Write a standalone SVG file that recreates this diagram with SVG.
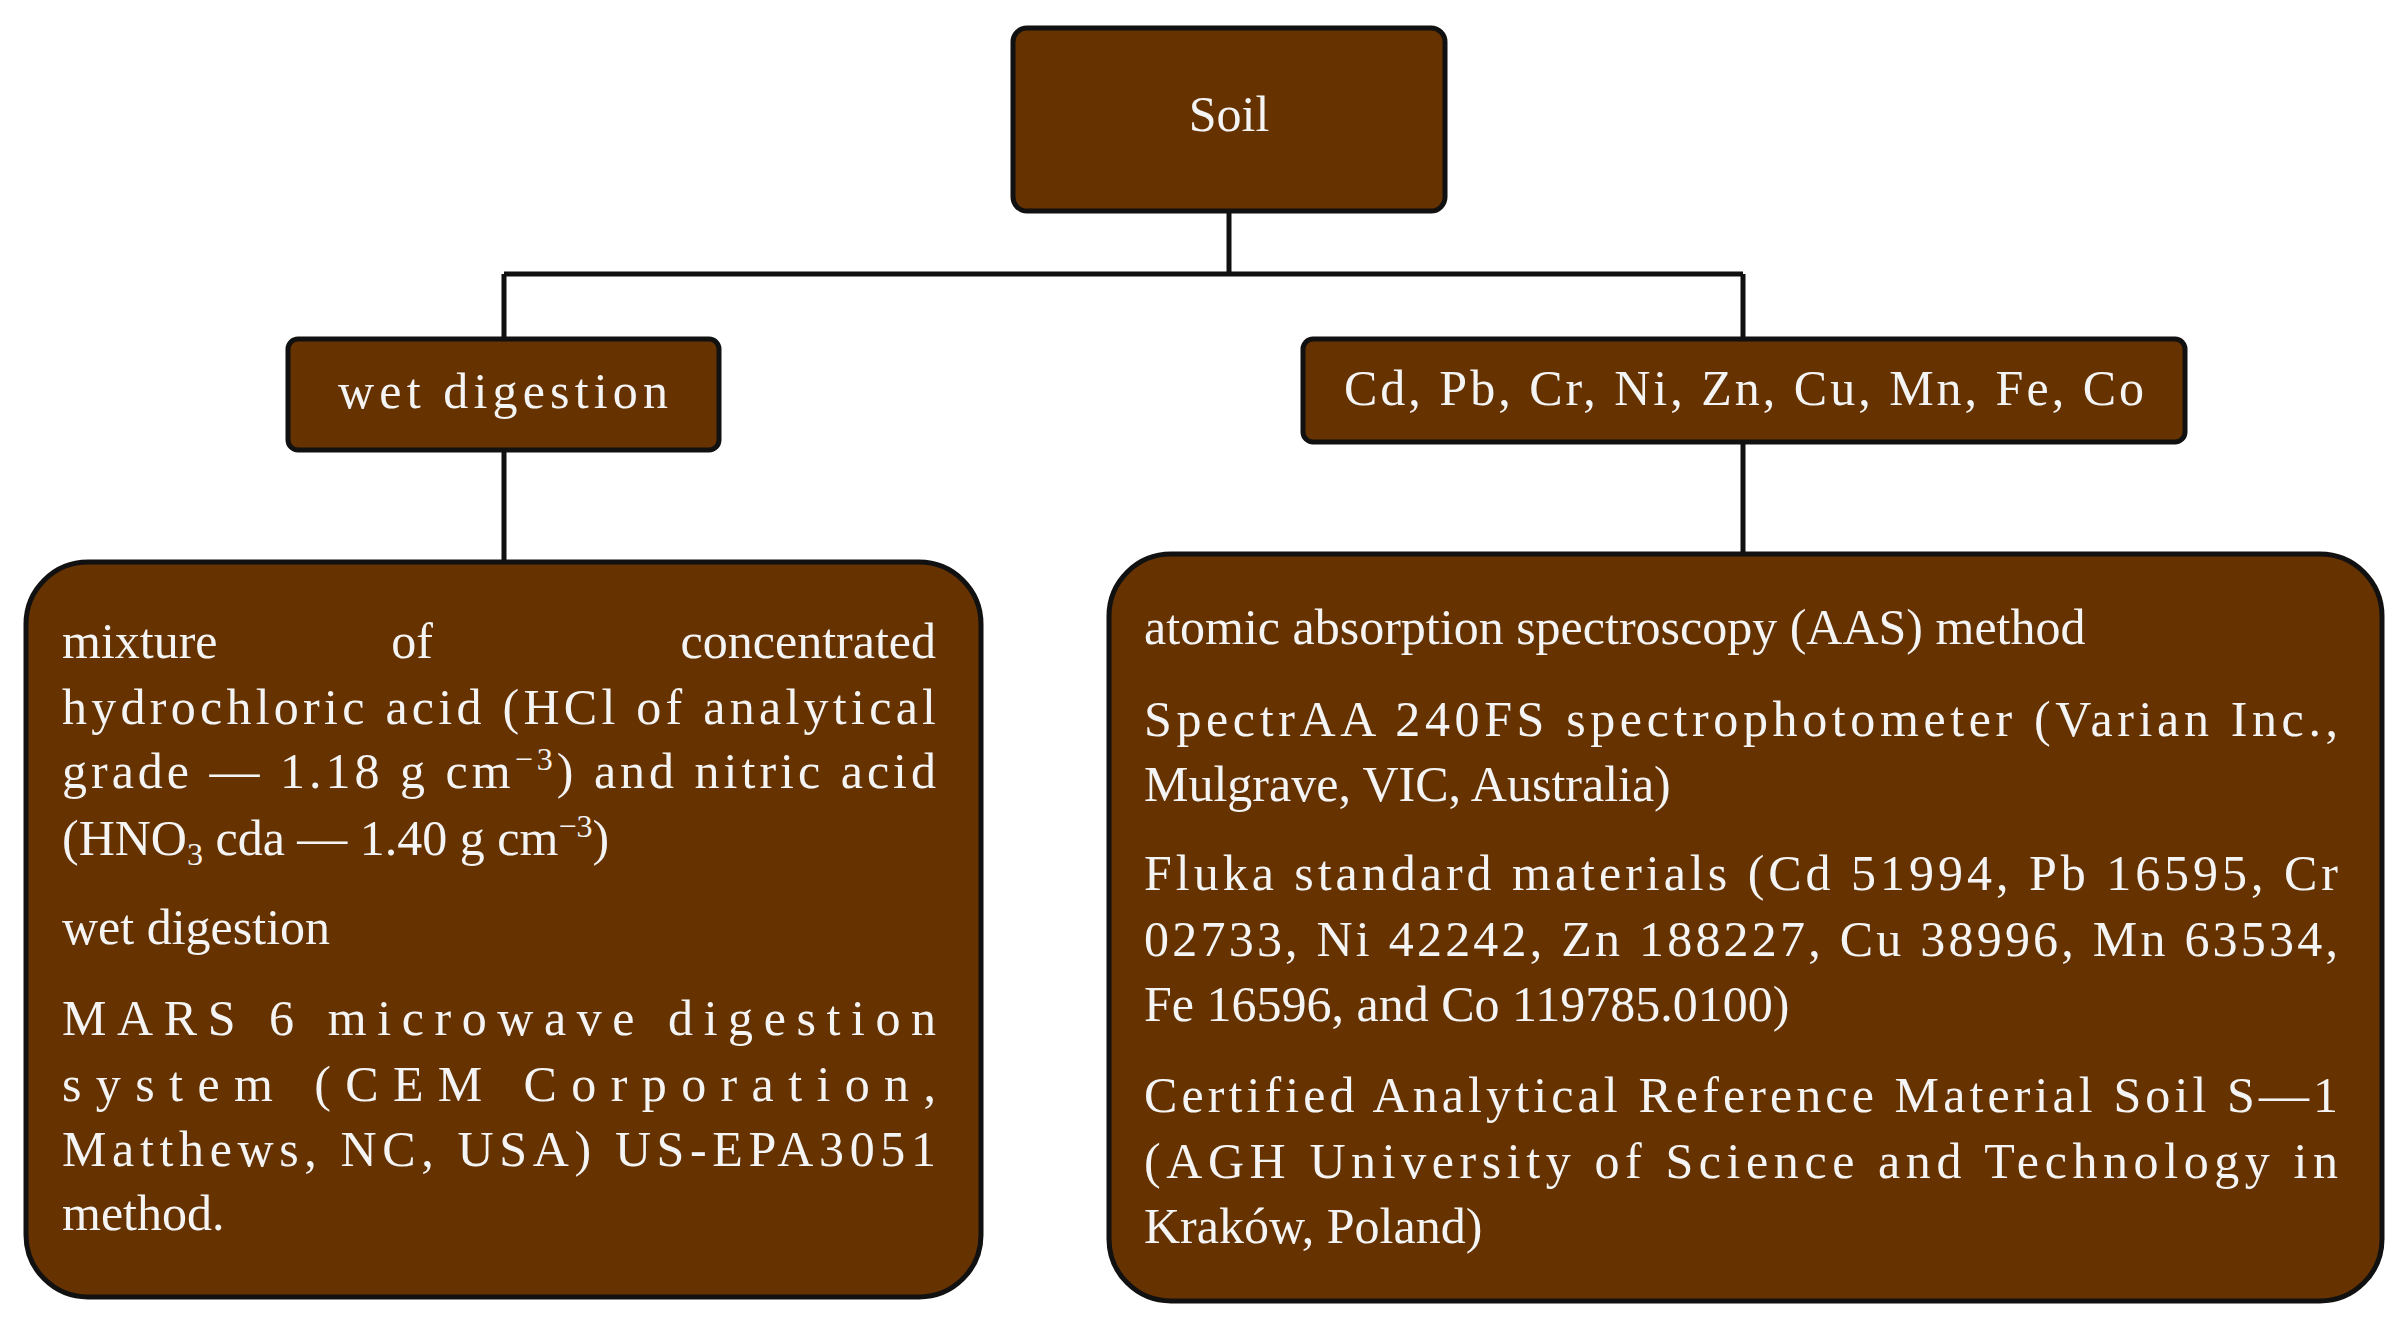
<svg xmlns="http://www.w3.org/2000/svg" width="2403" height="1320" viewBox="0 0 2403 1320">
<style>
.b{fill:#663300;stroke:#111;stroke-width:5}
text{font-family:"Liberation Serif","DejaVu Serif",serif;font-size:50px;fill:#f4f4f4}
.c{text-anchor:middle}
.l{fill:none;stroke:#111;stroke-width:5}
</style>
<rect width="2403" height="1320" fill="#fff"/>
<g id="connectors">
<path class="l" d="M1229 211V274M504 274H1743M504 274V339M1743 274V339M504 450V562M1743 442V554"/>
</g>
<g id="soil"><rect class="b" x="1013" y="28" width="432" height="183" rx="14"/><text class="c" x="1229" y="131">Soil</text></g>
<g id="wet"><rect class="b" x="288" y="339" width="431" height="111" rx="10"/><text class="c" x="503" y="408" textLength="330" lengthAdjust="spacing">wet  digestion</text></g>
<g id="metals"><rect class="b" x="1303" y="339" width="882" height="103" rx="10"/><text class="c" x="1744" y="405" textLength="800" lengthAdjust="spacing">Cd, Pb, Cr, Ni, Zn, Cu, Mn, Fe, Co</text></g>
<g id="left"><rect class="b" x="26" y="562" width="955" height="735" rx="62"/>
<text x="62" y="658">mixture</text><text x="412" y="658" class="c">of</text><text x="936" y="658" text-anchor="end">concentrated</text>
<text x="62" y="724" textLength="874" lengthAdjust="spacing">hydrochloric acid (HCl of analytical</text>
<text x="62" y="788" textLength="874" lengthAdjust="spacing">grade — 1.18 g cm<tspan dy="-18" font-size="32">−3</tspan><tspan dy="18">) and nitric acid</tspan></text>
<text x="62" y="855">(HNO<tspan dy="10" font-size="32">3</tspan><tspan dy="-10"> cda — 1.40 g cm</tspan><tspan dy="-18" font-size="32">−3</tspan><tspan dy="18">)</tspan></text>
<text x="62" y="944">wet digestion</text>
<text x="62" y="1035" textLength="874" lengthAdjust="spacing">MARS 6 microwave digestion</text>
<text x="62" y="1101" textLength="874" lengthAdjust="spacing">system (CEM Corporation,</text>
<text x="62" y="1166" textLength="874" lengthAdjust="spacing">Matthews, NC, USA) US-EPA3051</text>
<text x="62" y="1230">method.</text>
</g>
<g id="right"><rect class="b" x="1109" y="554" width="1273" height="747" rx="62"/>
<text x="1144" y="644">atomic absorption spectroscopy (AAS) method</text>
<text x="1144" y="736" textLength="1194" lengthAdjust="spacing">SpectrAA 240FS spectrophotometer (Varian Inc.,</text>
<text x="1144" y="801">Mulgrave, VIC, Australia)</text>
<text x="1144" y="890" textLength="1194" lengthAdjust="spacing">Fluka standard materials (Cd 51994, Pb 16595, Cr</text>
<text x="1144" y="956" textLength="1194" lengthAdjust="spacing">02733, Ni 42242, Zn 188227, Cu 38996, Mn 63534,</text>
<text x="1144" y="1021">Fe 16596, and Co 119785.0100)</text>
<text x="1144" y="1112" textLength="1194" lengthAdjust="spacing">Certified Analytical Reference Material Soil S—1</text>
<text x="1144" y="1178" textLength="1194" lengthAdjust="spacing">(AGH University of Science and Technology in</text>
<text x="1144" y="1243">Kraków, Poland)</text>
</g>
</svg>
